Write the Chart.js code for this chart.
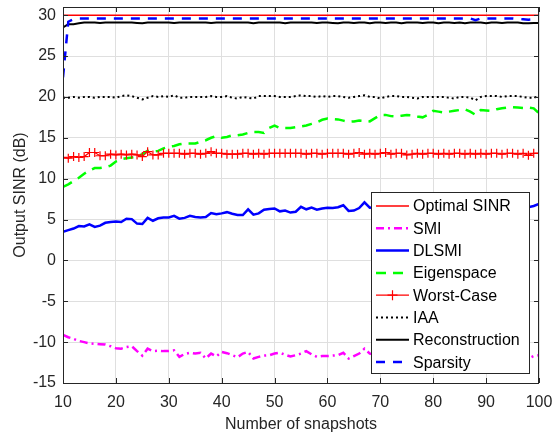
<!DOCTYPE html>
<html>
<head>
<meta charset="utf-8">
<script src="https://cdn.jsdelivr.net/npm/chart.js@4/dist/chart.umd.min.js"></script>
<style>
  html, body { margin: 0; padding: 0; background: #fff; }
  #wrap { width: 555px; height: 437px; position: relative; }
</style>
</head>
<body>
<div id="wrap"><canvas id="sinrChart"></canvas></div>
<script>
// x axis: number of snapshots
const snapshots = [10, 11, 12, 13, 14, 15, 16, 17, 18, 19, 20, 21, 22, 23, 24, 25, 26, 27, 28, 29,
  30, 31, 32, 33, 34, 35, 36, 37, 38, 39, 40, 41, 42, 43, 44, 45, 46, 47, 48, 49,
  50, 51, 52, 53, 54, 55, 56, 57, 58, 59, 60, 61, 62, 63, 64, 65, 66, 67, 68, 69,
  70, 71, 72, 73, 74, 75, 76, 77, 78, 79, 80, 81, 82, 83, 84, 85, 86, 87, 88, 89,
  90, 91, 92, 93, 94, 95, 96, 97, 98, 99, 100];

// output SINR (dB) per method
const optimalSINR = [30, 30, 30, 30, 30, 30, 30, 30, 30, 30, 30, 30, 30, 30, 30, 30, 30, 30, 30, 30,
  30, 30, 30, 30, 30, 30, 30, 30, 30, 30, 30, 30, 30, 30, 30, 30, 30, 30, 30, 30,
  30, 30, 30, 30, 30, 30, 30, 30, 30, 30, 30, 30, 30, 30, 30, 30, 30, 30, 30, 30,
  30, 30, 30, 30, 30, 30, 30, 30, 30, 30, 30, 30, 30, 30, 30, 30, 30, 30, 30, 30,
  30, 30, 30, 30, 30, 30, 30, 30, 30, 30, 30];

const smi = [-9.1, -9.4, -9.6, -9.85, -10.0, -10.15, -10.2, -10.25, -10.3, -10.5,
  -10.75, -10.8, -10.6, -10.5, -11.1, -11.65, -10.8, -11.1, -11.05, -11.1,
  -11.1, -11.0, -11.8, -11.45, -11.3, -11.4, -11.3, -12.0, -11.4, -11.75,
  -11.2, -11.35, -11.6, -11.85, -11.4, -11.2, -12.0, -11.8, -11.65, -11.6,
  -11.4, -11.3, -11.55, -11.75, -11.6, -11.4, -11.1, -11.5, -11.8, -11.7,
  -11.7, -11.65, -11.6, -11.3, -12.0, -11.7, -11.4, -10.8, -11.4, -11.5,
  -11.6, -11.4, -11.7, -11.5, -11.3, -11.6, -11.5, -11.8, -11.4, -11.5,
  -11.6, -11.3, -11.5, -11.7, -11.5, -11.4, -11.6, -11.5, -11.8, -11.4,
  -11.5, -11.6, -11.4, -11.5, -11.7, -11.5, -11.4, -11.6, -12.0, -11.7, -11.6];

const dlsmi = [3.5, 3.7, 3.9, 4.2, 4.15, 4.4, 4.1, 4.25, 4.6, 4.7,
  4.75, 4.7, 5.1, 5.05, 4.5, 4.45, 5.2, 4.85, 5.15, 5.25,
  5.25, 5.45, 5.1, 5.2, 5.45, 5.3, 5.25, 5.3, 5.8, 5.65,
  5.75, 5.9, 5.7, 5.55, 5.55, 6.25, 5.6, 5.75, 6.2, 6.3,
  6.35, 6.0, 6.1, 5.85, 5.95, 6.55, 6.25, 6.45, 6.2, 6.35,
  6.45, 6.4, 6.5, 6.75, 6.05, 6.1, 6.4, 7.1, 6.45, 6.5,
  6.6, 6.5, 6.7, 6.6, 6.8, 6.6, 6.7, 6.9, 6.6, 6.7,
  6.8, 6.7, 6.9, 6.7, 6.8, 6.6, 6.8, 6.9, 6.7, 6.8,
  6.9, 6.7, 6.8, 6.9, 6.7, 6.8, 6.6, 6.7, 6.5, 6.65, 6.9];

const eigenspace = [9.0, 9.3, 9.7, 10.1, 10.6, 11.0, 11.3, 11.3, 11.4, 11.6,
  12.1, 12.4, 12.5, 12.6, 12.7, 13.0, 13.4, 13.3, 13.4, 13.7,
  13.9, 14.0, 14.2, 14.3, 14.3, 14.3, 14.5, 14.7, 15.0, 15.2,
  15.0, 15.1, 15.3, 15.3, 15.4, 15.6, 15.7, 15.7, 15.6, 16.2,
  16.5, 16.2, 16.2, 16.2, 16.3, 16.4, 16.5, 16.7, 16.9, 17.2,
  17.35, 17.3, 17.25, 17.1, 16.95, 17.0, 17.1, 17.05, 17.0, 17.4,
  17.8, 17.8, 17.65, 17.6, 17.7, 17.8, 17.75, 17.6, 17.5, 17.8,
  18.3, 18.2, 18.1, 18.2, 18.3, 18.4, 18.5, 18.2, 17.8, 18.4,
  18.35, 18.3, 18.5, 18.6, 18.7, 18.75, 18.7, 18.65, 18.7, 18.6, 18.0];

const worstCase = [12.6, 12.5, 12.7, 12.6, 12.7, 13.2, 13.2, 12.8, 12.8, 13.0,
  12.9, 13.0, 12.9, 13.0, 12.9, 12.7, 13.3, 12.9, 12.9, 13.1,
  13.1, 13.1, 13.1, 13.0, 13.1, 13.1, 13.0, 13.1, 13.3, 13.1,
  13.1, 13.0, 13.0, 13.0, 13.1, 13.1, 13.0, 13.1, 13.0, 13.1,
  13.1, 13.1, 13.1, 13.1, 13.1, 13.1, 13.0, 13.1, 13.1, 13.0,
  13.1, 13.1, 13.1, 13.1, 13.0, 13.1, 13.2, 13.0, 13.1, 13.0,
  13.1, 13.2, 13.0, 13.1, 13.1, 12.9, 13.0, 13.1, 13.0, 13.1,
  13.1, 13.0, 13.1, 13.0, 13.1, 13.1, 13.0, 13.1, 13.0, 13.1,
  13.0, 13.1, 13.1, 13.0, 13.1, 13.1, 13.0, 13.1, 12.85, 13.1, 13.1];

const iaa = [19.9, 19.9, 20.0, 19.9, 20.0, 20.0, 19.9, 20.0, 20.0, 20.0,
  19.9, 20.1, 20.2, 20.1, 19.9, 19.7, 19.9, 20.1, 20.0, 20.1,
  20.0, 20.2, 19.9, 19.9, 20.0, 20.0, 20.0, 20.0, 20.1, 20.0,
  20.0, 20.1, 19.9, 19.8, 20.0, 19.9, 19.8, 20.1, 20.1, 20.1,
  20.1, 20.0, 20.0, 20.0, 20.1, 20.2, 20.1, 20.1, 20.0, 20.1,
  20.0, 20.1, 20.1, 20.0, 19.9, 20.0, 20.1, 20.2, 20.0, 20.0,
  19.8, 20.0, 20.1, 20.1, 20.0, 20.0, 19.9, 19.8, 20.0, 20.0,
  20.0, 20.0, 20.0, 19.9, 19.8, 20.0, 20.0, 19.9, 19.6, 20.0,
  20.1, 20.1, 20.1, 20.0, 20.1, 20.1, 20.1, 20.0, 19.9, 19.9, 20.1];

const reconstruction = [28.5, 28.9, 28.9, 29.0, 29.1, 29.1, 29.1, 29.05, 29.1, 29.1,
  29.1, 29.1, 29.1, 29.1, 29.05, 29.0, 29.1, 29.1, 29.1, 29.1,
  29.1, 29.05, 29.1, 29.1, 29.1, 29.1, 29.1, 29.1, 29.05, 29.1,
  29.1, 29.1, 29.1, 29.1, 29.1, 29.1, 29.0, 29.1, 29.1, 29.1,
  29.1, 29.1, 29.0, 29.1, 29.1, 29.1, 29.1, 29.1, 29.05, 29.1,
  29.1, 29.05, 29.0, 29.1, 29.1, 29.05, 29.1, 29.1, 29.0, 29.1,
  29.1, 29.05, 29.1, 29.1, 29.0, 29.1, 29.1, 29.1, 29.05, 29.1,
  29.1, 29.0, 29.1, 29.1, 29.05, 29.1, 29.0, 29.1, 29.1, 29.1,
  29.0, 29.1, 29.1, 29.05, 29.1, 29.1, 29.1, 29.0, 29.0, 29.05, 29.05];

const sparsity = [22.4, 29.2, 29.5, 29.6, 29.6, 29.6, 29.6, 29.6, 29.6, 29.6,
  29.6, 29.6, 29.6, 29.6, 29.6, 29.6, 29.6, 29.6, 29.6, 29.6,
  29.6, 29.6, 29.6, 29.6, 29.6, 29.6, 29.6, 29.6, 29.6, 29.6,
  29.6, 29.6, 29.6, 29.6, 29.6, 29.6, 29.6, 29.6, 29.6, 29.6,
  29.6, 29.6, 29.6, 29.6, 29.6, 29.6, 29.6, 29.6, 29.6, 29.6,
  29.6, 29.6, 29.6, 29.6, 29.6, 29.6, 29.6, 29.6, 29.6, 29.6,
  29.6, 29.6, 29.6, 29.6, 29.6, 29.6, 29.6, 29.6, 29.6, 29.6,
  29.6, 29.6, 29.6, 29.6, 29.6, 29.6, 29.6, 29.6, 29.4, 29.6,
  29.6, 29.6, 29.6, 29.6, 29.6, 29.6, 29.55, 29.5, 29.45, 29.5, 29.5];

const xTicks = [10, 20, 30, 40, 50, 60, 70, 80, 90, 100];
const yTicks = [-15, -10, -5, 0, 5, 10, 15, 20, 25, 30];

const FONT = "'Liberation Sans', Arial, Helvetica, sans-serif";
const FONT_SIZE = 16;
const AXIS_COLOR = '#262626';

function toPoints(values) {
  return values.map((v, i) => ({ x: snapshots[i], y: v }));
}

function series(label, values, color, width, dash, order, extra) {
  return Object.assign({
    label: label,
    data: toPoints(values),
    borderColor: color,
    backgroundColor: color,
    borderWidth: width,
    borderDash: dash,
    pointRadius: 0,
    tension: 0,
    fill: false,
    order: order
  }, extra || {});
}

// drop the label overhang padding so layout.padding sets the plot box exactly
function noOverhang(s) {
  s.paddingTop = 0;
  s.paddingBottom = 0;
  s.paddingLeft = 0;
  s.paddingRight = 0;
}

// MATLAB style box: frame with inward ticks on every side
const boxPlugin = {
  id: 'box',
  afterDatasetsDraw(chart) {
    const { ctx, chartArea: a, scales } = chart;
    ctx.save();
    ctx.strokeStyle = AXIS_COLOR;
    ctx.lineWidth = 1;
    ctx.strokeRect(a.left + 0.5, a.top + 0.5, a.right - a.left - 1, a.bottom - a.top);
    ctx.beginPath();
    xTicks.forEach(t => {
      const px = Math.round(scales.x.getPixelForValue(t)) + 0.5;
      ctx.moveTo(px, a.bottom); ctx.lineTo(px, a.bottom - 5);
      ctx.moveTo(px, a.top); ctx.lineTo(px, a.top + 5);
    });
    yTicks.forEach(t => {
      const py = Math.round(scales.y.getPixelForValue(t)) + 0.5;
      ctx.moveTo(a.left, py); ctx.lineTo(a.left + 5, py);
      ctx.moveTo(a.right, py); ctx.lineTo(a.right - 5, py);
    });
    ctx.stroke();
    ctx.restore();
  }
};

// legend box inside the plot, lower right
const legendPlugin = {
  id: 'boxLegend',
  afterDraw(chart) {
    const { ctx } = chart;
    const x0 = 371, y0 = 192, w = 158, h = 181;
    ctx.save();
    ctx.fillStyle = '#fff';
    ctx.fillRect(x0, y0, w, h);
    ctx.strokeStyle = AXIS_COLOR;
    ctx.lineWidth = 1;
    ctx.strokeRect(x0 + 0.5, y0 + 0.5, w, h);
    ctx.font = FONT_SIZE + 'px ' + FONT;
    ctx.textBaseline = 'middle';
    chart.data.datasets.forEach((ds, i) => {
      const y = y0 + 14 + i * 22.3;
      ctx.strokeStyle = ds.borderColor;
      ctx.lineWidth = ds.borderWidth;
      ctx.setLineDash(ds.borderDash || []);
      ctx.beginPath();
      ctx.moveTo(376, y);
      ctx.lineTo(409, y);
      ctx.stroke();
      ctx.setLineDash([]);
      if (ds.pointStyle === 'cross') {
        ctx.lineWidth = 1.2;
        ctx.beginPath();
        ctx.moveTo(392.5, y - 5); ctx.lineTo(392.5, y + 5);
        ctx.moveTo(387.5, y); ctx.lineTo(397.5, y);
        ctx.stroke();
      }
      ctx.fillStyle = '#000';
      ctx.fillText(ds.label, 413, y + 1);
    });
    ctx.restore();
  }
};

const ctx = document.getElementById('sinrChart').getContext('2d');
new Chart(ctx, {
  type: 'line',
  data: {
    datasets: [
      series('Optimal SINR', optimalSINR, '#ff0000', 1.5, [], 8),
      series('SMI', smi, '#ff00ff', 2.5, [8, 4, 2, 4], 7),
      series('DLSMI', dlsmi, '#0000ff', 2.5, [], 6),
      series('Eigenspace', eigenspace, '#00ff00', 2.5, [10, 7], 5),
      series('Worst-Case', worstCase, '#ff0000', 1.2, [], 4, {
        pointStyle: 'cross', pointRadius: 4.5, pointBorderWidth: 1.2
      }),
      series('IAA', iaa, '#000000', 2, [2, 3], 3),
      series('Reconstruction', reconstruction, '#000000', 2, [], 2),
      series('Sparsity', sparsity, '#0000ff', 2.5, [9, 8], 1)
    ]
  },
  options: {
    responsive: true,
    maintainAspectRatio: false,
    animation: false,
    devicePixelRatio: 1,
    layout: {
      padding: { top: 7, right: 16, left: 0, bottom: 0 }
    },
    plugins: {
      legend: { display: false },
      tooltip: { enabled: false },
      title: { display: false }
    },
    scales: {
      x: {
        type: 'linear',
        min: 10,
        max: 100,
        border: { display: false },
        grid: { color: '#dfdfdf', drawTicks: false },
        afterBuildTicks: s => { s.ticks = xTicks.map(v => ({ value: v })); },
        afterFit: s => { s.height = 54; noOverhang(s); },
        ticks: {
          color: AXIS_COLOR,
          padding: 10,
          maxRotation: 0,
          font: { family: FONT, size: FONT_SIZE }
        },
        title: {
          display: true,
          text: 'Number of snapshots',
          color: AXIS_COLOR,
          padding: { top: 0, bottom: 3 },
          font: { family: FONT, size: FONT_SIZE }
        }
      },
      y: {
        type: 'linear',
        min: -15,
        max: 31,
        border: { display: false },
        grid: { color: '#dfdfdf', drawTicks: false },
        afterBuildTicks: s => { s.ticks = yTicks.map(v => ({ value: v })); },
        afterFit: s => { s.width = 63; noOverhang(s); },
        ticks: {
          color: AXIS_COLOR,
          padding: 7,
          font: { family: FONT, size: FONT_SIZE }
        },
        title: {
          display: true,
          text: 'Output SINR (dB)',
          color: AXIS_COLOR,
          padding: { top: 11, bottom: 0 },
          font: { family: FONT, size: FONT_SIZE }
        }
      }
    }
  },
  plugins: [boxPlugin, legendPlugin]
});
</script>
</body>
</html>
